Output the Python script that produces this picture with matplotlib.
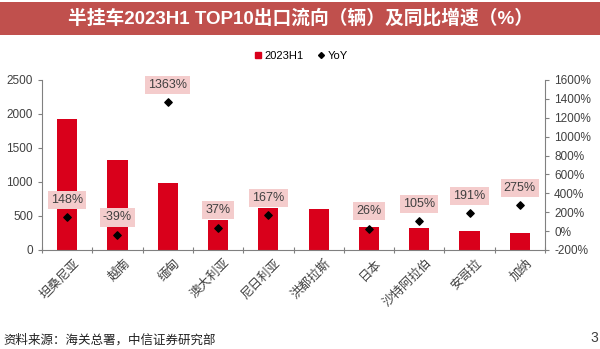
import numpy as np
import matplotlib.pyplot as plt
from matplotlib.patches import Rectangle
from matplotlib.lines import Line2D

plt.rcParams['font.family'] = ['Liberation Sans', 'Noto Sans CJK SC', 'DejaVu Sans']

countries = ['坦桑尼亚', '越南', '缅甸', '澳大利亚', '尼日利亚', '洪都拉斯', '日本', '沙特阿拉伯', '安哥拉', '加纳']
volume = [1920, 1320, 990, 440, 620, 610, 340, 330, 275, 255]
yoy = [148, -39, 1363, 37, 167, np.nan, 26, 105, 191, 275]

bar_c = '#D9001B'
txt_c = '#404040'

fig = plt.figure(figsize=(6, 3.49), dpi=100)

# title bar
fig.patches.append(Rectangle((0, 1 - 35/349), 1, 33/349, transform=fig.transFigure,
                             facecolor='#C0504D', edgecolor='none'))
fig.text(0.5, 1 - 18.5/349, '半挂车2023H1 TOP10出口流向（辆）及同比增速（%）',
         ha='center', va='center', color='white', fontsize=13.5, fontweight='bold')

ax = fig.add_axes([42/600, 99/349, 503/600, 170/349])
x = np.arange(len(countries))
ax.bar(x, volume, width=0.4, color=bar_c, zorder=2)
ax.set_xlim(-0.5, len(countries) - 0.5)
ax.set_ylim(0, 2500)
ax.set_yticks(range(0, 2501, 500))
ax.set_xticks(np.arange(-0.5, len(countries), 1))
ax.set_xticklabels([])
ax.set_xticks(x + 0.12, minor=True)
ax.set_xticklabels(countries, minor=True, rotation=45, ha='right', rotation_mode='anchor',
                   fontsize=9, color=txt_c)
ax.tick_params(axis='x', which='minor', length=0, pad=5)
ax.tick_params(axis='x', which='major', length=4, color='#808080', direction='inout')
ax.tick_params(axis='y', labelsize=8.5, labelcolor=txt_c, color='#808080', length=3)
for s in ['top', 'right']:
    ax.spines[s].set_visible(False)
for s in ['left', 'bottom']:
    ax.spines[s].set_color('#808080')

ax2 = ax.twinx()
ax2.scatter(x, yoy, marker='D', s=14, color='black', zorder=3)
ax2.set_ylim(-200, 1600)
ax2.set_yticks(range(-200, 1601, 200))
ax2.set_yticklabels([f'{v}%' for v in range(-200, 1601, 200)])
ax2.tick_params(axis='y', labelsize=8.5, labelcolor=txt_c, color='#808080', length=3)
for s in ['top', 'left', 'bottom']:
    ax2.spines[s].set_visible(False)
ax2.spines['right'].set_color('#808080')

for xi, v in zip(x, yoy):
    if np.isnan(v):
        continue
    ax2.annotate(f'{v:.0f}%', (xi, v), xytext=(0, 12.5), textcoords='offset points',
                 ha='center', va='center', fontsize=9, color=txt_c,
                 bbox=dict(boxstyle='square,pad=0.25', facecolor='#F4CCCC', edgecolor='none'))

handles = [Line2D([], [], marker='s', linestyle='none', color=bar_c, markersize=5),
           Line2D([], [], marker='D', linestyle='none', color='black', markersize=3)]
fig.legend(handles, ['2023H1', 'YoY'], loc='center', bbox_to_anchor=(0.5, 1 - 56/349),
           ncol=2, frameon=False, fontsize=8, handletextpad=0.1, columnspacing=1.0,
           handlelength=1)

fig.text(3/600, 1 - 340/349, '资料来源：海关总署，中信证券研究部', fontsize=9,
         color='#202020', va='center')
fig.text(598/600, 1 - 338/349, '3', fontsize=10, color='#404040', va='center', ha='right')

fig.savefig('out.png', dpi=100)
